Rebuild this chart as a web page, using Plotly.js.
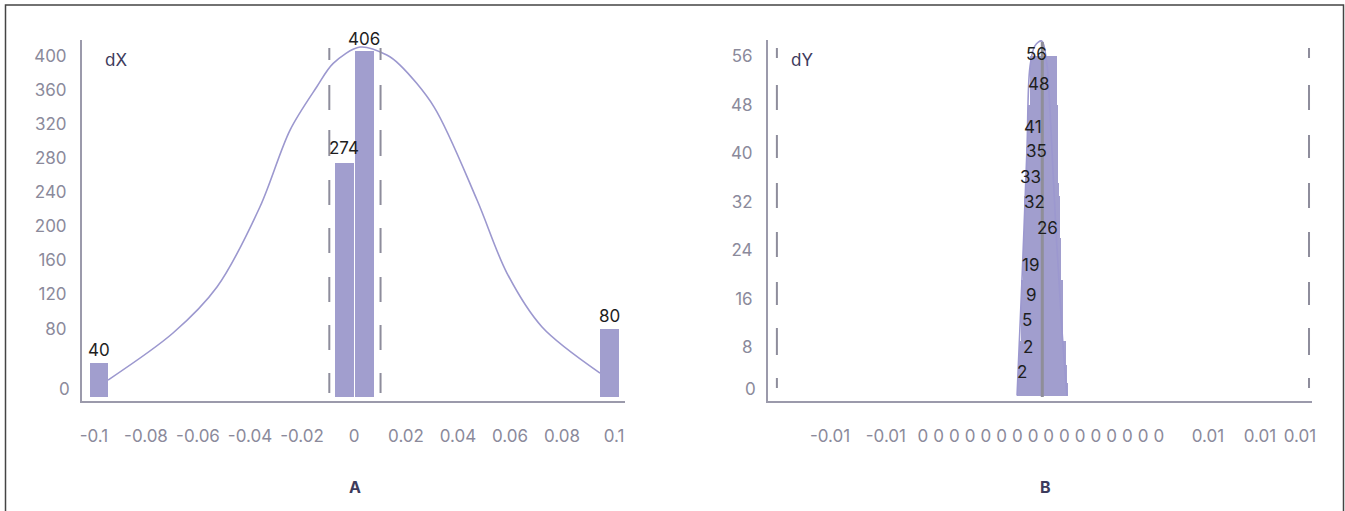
<!DOCTYPE html>
<html>
<head>
<meta charset="utf-8">
<script src="https://cdn.plot.ly/plotly-3.0.1.min.js"></script>
<style>
  html, body { margin: 0; padding: 0; background: #ffffff; }
  #chart { width: 1345px; height: 511px; }
</style>
</head>
<body>
<div id="chart"></div>
<script>
// ---------- DATA ----------
// Panel A (dX)
const dxBinCenters = [-0.0981, -0.0037, 0.0040, 0.0983];
const dxCounts     = [40, 274, 406, 80];
const dxBinWidth   = 0.0071;
const dxCurveX = [-0.0946, -0.0696, -0.0527, -0.0362, -0.0246, -0.0143, -0.0080, 0.0023, 0.0126, 0.0177, 0.0308, 0.0473, 0.0588, 0.0723, 0.0946];
const dxCurveY = [19.6, 74.8, 128.8, 222.7, 313.0, 363.8, 391.3, 410.4, 401.1, 389.3, 340.0, 230.9, 145.2, 81.9, 27.8];
const dxLimits = [-0.0095, 0.0102];
const dxTickVals = [-0.1, -0.08, -0.06, -0.04, -0.02, 0, 0.02, 0.04, 0.06, 0.08, 0.1];
const dxTickText = ["-0.1", "-0.08", "-0.06", "-0.04", "-0.02", "0", "0.02", "0.04", "0.06", "0.08", "0.1"];
const dxYTickVals = [80, 120, 160, 200, 240, 280, 320, 360, 400];

// Panel B (dY)
const dyCounts     = [2, 2, 5, 9, 19, 26, 32, 33, 35, 41, 48, 56];
const dyBinCenters = [-0.00012, -0.00011, -0.00012, -0.00012, -0.00014, -0.00015, -0.00014, -0.00014, -0.00014, -0.00013, -0.00009, -0.00008];
const dyBinWidths  = [0.00237, 0.00233, 0.00228, 0.00219, 0.00195, 0.00179, 0.00167, 0.00163, 0.00158, 0.00151, 0.00140, 0.00128];
const dyCurveX = [-0.00130, -0.00107, -0.00084, -0.00070, -0.00047, -0.00015, 0.00008, 0.00023, 0.00051, 0.00079, 0.00102];
const dyCurveY = [0, 19.1, 40.5, 54.2, 57.7, 58.5, 54.9, 47.1, 27.3, 10.8, 0];
const dyMean = -0.000126;
const dyLimits = [-0.01247, 0.01228];
const dyTickVals = [-0.0100, -0.0074, -0.005679, -0.004947, -0.004216, -0.003484, -0.002753, -0.002021, -0.001290, -0.000558, 0.000173, 0.000905, 0.001636, 0.002368, 0.003100, 0.003831, 0.004563, 0.005295, 0.00758, 0.0100, 0.01186];
const dyTickText = ["-0.01", "-0.01", "0","0","0","0","0","0","0","0","0","0","0","0","0","0","0","0", "0.01", "0.01", "0.01"];
const dyYTickVals = [8, 16, 24, 32, 40, 48, 56];

// ---------- STYLE ----------
const FONT = "Inter, 'Noto Sans', sans-serif";
const FS = 17;
const BAR = "#a19ece";
const CURVE = "#9c98cf";
const AXIS = "#9b9aab";
const TICK = "#8b8a9b";
const DARK = "#3d3b5c";
const DASH = "#8e8d9c";
// label offsets for panel B value labels (pixels)
const dyLabelDx = [-20, -15, -15, -11, -11, 6, -7, -11, -5, -9, -4, -7];
const dyLabelDy = [11, 36, 45, 46, 15, 10, 0, 19, 32, 20, 21, 2];
const dxLabelDy = [1, 3, 0, 1];

const W = 1345, H = 511;
const px = v => v / W, py = v => (H - v) / H;

const traces = [
  { type: "bar", x: dxBinCenters, y: dxCounts, width: dxBinWidth, xaxis: "x", yaxis: "y",
    marker: { color: BAR, line: { width: 0 } }, hoverinfo: "x+y" },
  { type: "scatter", mode: "lines", x: dxCurveX, y: dxCurveY, xaxis: "x", yaxis: "y",
    line: { color: CURVE, width: 1.6, shape: "spline", smoothing: 0.9 }, hoverinfo: "skip" },
  { type: "bar", x: dyBinCenters, y: dyCounts, width: dyBinWidths, xaxis: "x2", yaxis: "y2",
    marker: { color: BAR, line: { width: 0 } }, hoverinfo: "y" },
  { type: "scatter", mode: "lines", x: dyCurveX, y: dyCurveY, xaxis: "x2", yaxis: "y2",
    line: { color: CURVE, width: 1.6, shape: "spline", smoothing: 1 }, hoverinfo: "skip" }
];

const yTop = 40, yBot = 401;
const annotations = [
  { xref: "x domain", yref: "y domain", x: (103 - 82) / 543, y: (yBot - 60) / (yBot - yTop), xanchor: "left", yanchor: "middle",
    text: "dX", showarrow: false, font: { family: FONT, size: FS, color: DARK } },
  { xref: "x2 domain", yref: "y2 domain", x: (789 - 768) / 544, y: (yBot - 60) / (yBot - yTop), xanchor: "left", yanchor: "middle",
    text: "dY", showarrow: false, font: { family: FONT, size: FS, color: DARK } },
  { xref: "paper", yref: "paper", x: px(355), y: py(487), xanchor: "center", yanchor: "middle", text: "<b>A</b>", showarrow: false,
    font: { family: FONT, size: 16, color: DARK } },
  { xref: "paper", yref: "paper", x: px(1045), y: py(487), xanchor: "center", yanchor: "middle", text: "<b>B</b>", showarrow: false,
    font: { family: FONT, size: 16, color: DARK } },
  { xref: "x domain", yref: "y", x: 0, y: 0, xanchor: "right", yanchor: "middle", xshift: -10, yshift: 8,
    text: "0", showarrow: false, font: { family: FONT, size: FS, color: TICK } },
  { xref: "x2 domain", yref: "y2", x: 0, y: 0, xanchor: "right", yanchor: "middle", xshift: -10, yshift: 7,
    text: "0", showarrow: false, font: { family: FONT, size: FS, color: TICK } }
];
dxCounts.forEach((v, i) => {
  annotations.push({ xref: "x", yref: "y", x: dxBinCenters[i], y: v, xanchor: "center", yanchor: "bottom",
    yshift: dxLabelDy[i], text: String(v), showarrow: false,
    font: { family: FONT, size: FS, color: "#1e1e1e" } });
});
dyCounts.forEach((v, i) => {
  annotations.push({ xref: "x2", yref: "y2", x: dyBinCenters[i], y: v, xanchor: "center", yanchor: "middle",
    xshift: dyLabelDx[i], yshift: dyLabelDy[i], text: String(v), showarrow: false,
    font: { family: FONT, size: FS, color: "#1e1e1e" } });
});

const ydom = (p) => (yBot - p) / (yBot - yTop);
const shapes = [
  // outer frame
  { type: "rect", xref: "paper", yref: "paper", x0: px(5.5), x1: px(1343.5), y0: -0.2, y1: py(5),
    line: { color: "#444444", width: 1.5 }, fillcolor: "rgba(0,0,0,0)", layer: "above" },
  ...dxLimits.map(v => ({ type: "line", xref: "x", yref: "y domain", x0: v, x1: v, y0: ydom(48), y1: ydom(393),
    line: { color: DASH, width: 2, dash: "12px,25px,25px,20px,26px,24px,25px,23px,25px,24px,25px,23px,25px,23px,20px,200px" } })),
  ...dyLimits.map(v => ({ type: "line", xref: "x2", yref: "y2 domain", x0: v, x1: v, y0: ydom(48), y1: ydom(388),
    line: { color: DASH, width: 2, dash: "10px,27px,25px,25px,23px,25px,25px,24px,25px,25px,23px,23px,27px,23px,10px,200px" } })),
  { type: "line", xref: "x2", yref: "y2 domain", x0: dyMean, x1: dyMean, y0: ydom(42), y1: ydom(397),
    line: { color: "#8f8e99", width: 3 }, layer: "above" }
];

const axisCommon = {
  showline: true, linecolor: AXIS, linewidth: 2, showgrid: false, zeroline: false, ticks: "",
  tickfont: { family: FONT, size: FS, color: TICK }, fixedrange: true
};

const layout = {
  width: W, height: H, margin: { l: 0, r: 0, t: 0, b: 0 },
  paper_bgcolor: "#ffffff", plot_bgcolor: "#ffffff",
  showlegend: false, barmode: "overlay", bargap: 0,
  font: { family: FONT },
  xaxis: Object.assign({}, axisCommon, { domain: [px(82), px(625)], range: [-0.1046, 0.1042], anchor: "y",
    tickmode: "array", tickvals: dxTickVals, ticktext: dxTickText, tickangle: 0, ticklabelstandoff: 19 }),
  yaxis: Object.assign({}, axisCommon, { domain: [py(yBot), py(yTop)], range: [-5, 418.7], anchor: "x",
    tickmode: "array", tickvals: dxYTickVals, ticklabelstandoff: 10 }),
  xaxis2: Object.assign({}, axisCommon, { domain: [px(768), px(1312)], range: [-0.012884, 0.012419], anchor: "y2",
    tickmode: "array", tickvals: dyTickVals, ticktext: dyTickText, tickangle: 0, ticklabelstandoff: 19 }),
  yaxis2: Object.assign({}, axisCommon, { domain: [py(yBot), py(yTop)], range: [-0.9, 58.67], anchor: "x2",
    tickmode: "array", tickvals: dyYTickVals, ticklabelstandoff: 10 }),
  annotations: annotations,
  shapes: shapes
};

Plotly.newPlot("chart", traces, layout, { staticPlot: true, displayModeBar: false });
</script>
</body>
</html>
